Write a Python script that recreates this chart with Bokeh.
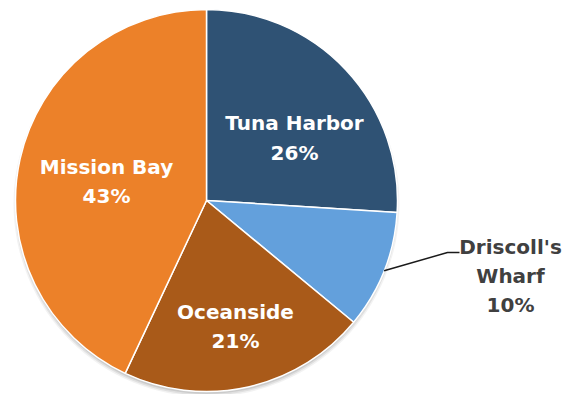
import math
from bokeh.plotting import figure
from bokeh.models import Range1d
from bokeh.core.properties import value
from bokeh.embed import file_html
from bokeh.resources import INLINE

# ---- data ----
categories = ["Tuna Harbor", "Driscoll's Wharf", "Oceanside", "Mission Bay"]
shares = [26, 10, 21, 43]
colors = ["#2F5274", "#63A0DC", "#A95A19", "#EC8129"]

# ---- layout (screen pixel coords, y measured downward) ----
W, H = 563, 394
cx_img, cy_img, R = 206, 200, 191
label_pos = {
    "Tuna Harbor": (294, 122, 152, "white"),
    "Mission Bay": (106, 166, 195, "white"),
    "Oceanside": (235, 311, 340, "white"),
}

def X(x):
    return x

def Y(y):
    return H - y

p = figure(width=W, height=H, output_backend="svg", toolbar_location=None,
           x_range=Range1d(0, W), y_range=Range1d(0, H), min_border=0)
p.axis.visible = False
p.grid.visible = False
p.outline_line_color = None
p.background_fill_color = "white"

cx, cy = X(cx_img), Y(cy_img)

# soft shadow (mostly below the pie)
for i, a in enumerate([0.05, 0.07, 0.09]):
    p.circle(x=cx, y=cy - 3.5, radius=R + 2 - i * 1.5, fill_color="#000000",
             fill_alpha=a, line_color=None)

start = math.pi / 2
total = sum(shares)
mids = []
for cat, s, c in zip(categories, shares, colors):
    sweep = 2 * math.pi * s / total
    end = start - sweep
    p.wedge(x=cx, y=cy, radius=R, start_angle=end, end_angle=start,
            fill_color=c, line_color="white", line_width=1.5)
    mids.append((start + end) / 2)
    start = end

font = value("DejaVu Sans")
fs = "20px"
for cat, s in zip(categories, shares):
    if cat in label_pos:
        lx, y1, y2, col = label_pos[cat]
        p.text(x=[X(lx)], y=[Y(y1)], text=[cat], text_font=font, text_font_style="bold",
               text_font_size=fs, text_color=col, text_align="center",
               text_baseline="middle")
        p.text(x=[X(lx)], y=[Y(y2)], text=[f"{s}%"], text_font=font, text_font_style="bold",
               text_font_size=fs, text_color=col, text_align="center",
               text_baseline="middle")

# Driscoll's Wharf outside label with leader line
ang = mids[1]
ex, ey = cx + R * math.cos(ang), cy + R * math.sin(ang)
p.line(x=[ex, X(447), X(459)], y=[ey, Y(252), Y(252)], line_color="#1a1a1a", line_width=1.5)
parts = ["Driscoll's", "Wharf", f"{shares[1]}%"]
for t, yy in zip(parts, [246, 275, 304]):
    p.text(x=[X(510)], y=[Y(yy)], text=[t], text_font=font, text_font_style="bold",
           text_font_size=fs, text_color="#404040", text_align="center",
           text_baseline="middle")

open("out.html", "w").write(file_html(p, INLINE))
